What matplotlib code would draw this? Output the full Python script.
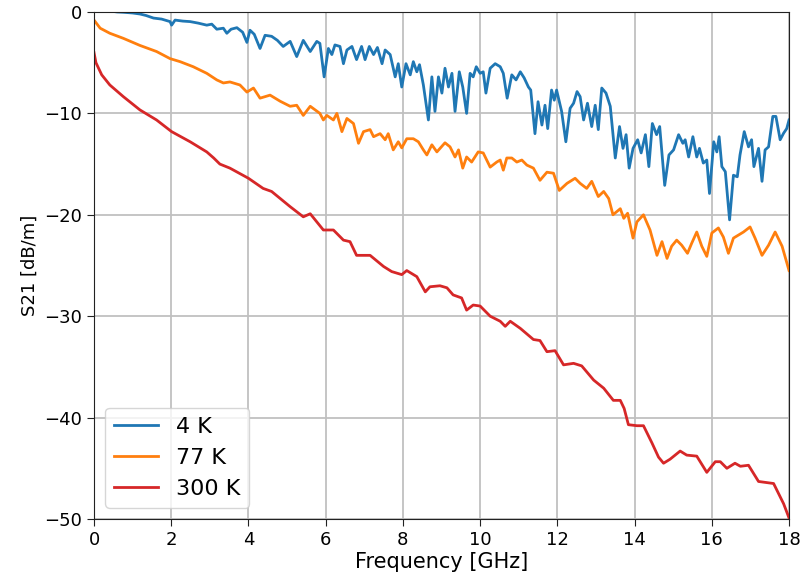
import matplotlib.pyplot as plt
import numpy as np

# S21 attenuation readings, frequency in GHz, value in dB/m
freq_4k = [0.0, 0.3, 0.6, 0.76, 1.0, 1.19, 1.35, 1.54, 1.75, 1.97, 2.01, 2.1, 2.3, 2.49, 2.7,
           2.92, 3.05, 3.18, 3.35, 3.44, 3.55, 3.7, 3.85, 3.96, 4.04, 4.15, 4.3, 4.43, 4.6, 4.75,
           4.9, 5.08, 5.25, 5.42, 5.6, 5.77, 5.85, 5.96, 6.07, 6.16, 6.24, 6.37, 6.46, 6.55, 6.68,
           6.8, 6.93, 7.02, 7.13, 7.24, 7.34, 7.46, 7.54, 7.67, 7.8, 7.88, 7.97, 8.08, 8.19, 8.27,
           8.36, 8.43, 8.53, 8.66, 8.75, 8.83, 8.92, 9.01, 9.09, 9.18, 9.27, 9.35, 9.46, 9.55, 9.65,
           9.74, 9.82, 9.9, 10.0, 10.08, 10.15, 10.26, 10.39, 10.52, 10.6, 10.7, 10.82, 10.93, 11.04,
           11.14, 11.25, 11.31, 11.42, 11.5, 11.6, 11.68, 11.75, 11.85, 11.92, 11.98, 12.11, 12.22,
           12.33, 12.42, 12.51, 12.59, 12.68, 12.78, 12.89, 12.98, 13.06, 13.15, 13.26, 13.37, 13.5,
           13.61, 13.7, 13.78, 13.86, 13.96, 14.08, 14.17, 14.28, 14.37, 14.46, 14.57, 14.65, 14.78,
           14.89, 15.01, 15.14, 15.25, 15.31, 15.4, 15.51, 15.61, 15.68, 15.78, 15.87, 15.94, 16.05,
           16.13, 16.19, 16.26, 16.35, 16.46, 16.56, 16.66, 16.73, 16.84, 16.95, 17.03, 17.09, 17.21,
           17.3, 17.38, 17.47, 17.58, 17.66, 17.77, 17.86, 17.94, 18.0]
s21_4k = [0.3, 0.15, 0.0, -0.03, -0.1, -0.2, -0.35, -0.6, -0.7, -0.95, -1.3, -0.8, -0.9, -0.95, -1.1,
          -1.3, -1.2, -1.7, -1.6, -2.1, -1.7, -1.55, -2.0, -3.0, -1.8, -2.2, -3.6, -2.3, -2.4, -2.8,
          -3.4, -2.9, -4.4, -2.8, -3.9, -2.9, -3.1, -6.4, -3.6, -4.2, -3.25, -3.4, -5.1, -3.75, -3.4,
          -4.7, -3.4, -4.7, -3.4, -4.2, -3.5, -5.1, -3.75, -4.2, -6.4, -5.1, -7.4, -5.1, -6.2, -4.9,
          -5.9, -5.2, -7.2, -10.65, -6.4, -9.8, -6.4, -8.0, -5.55, -7.4, -6.05, -9.8, -5.9, -7.4, -10.0,
          -6.05, -6.4, -5.4, -6.05, -5.9, -8.0, -5.55, -5.1, -5.4, -6.05, -8.5, -6.2, -6.7, -5.9,
          -6.5, -7.4, -7.7, -12.0, -8.85, -11.15, -9.2, -11.5, -7.7, -8.7, -7.7, -9.8, -12.8,
          -9.5, -9.0, -7.85, -8.35, -10.65, -9.0, -11.3, -9.2, -11.6, -7.5, -8.0, -9.3, -14.4,
          -11.3, -13.45, -12.1, -15.4, -13.45, -12.6, -13.9, -12.1, -15.25, -11.0, -12.1, -11.3, -17.1,
          -14.1, -13.6, -12.1, -12.95, -12.6, -14.3, -12.3, -14.3, -13.45, -14.9, -14.6, -17.9, -12.8,
          -13.8, -12.3, -15.25, -15.75, -20.5, -16.1, -16.25, -14.1, -11.8, -13.3, -12.6, -15.25, -13.45,
          -16.7, -13.6, -13.3, -10.3, -10.3, -12.6, -11.95, -11.5, -10.65]

freq_77k = [0.0, 0.03, 0.16, 0.41, 0.76, 1.19, 1.62, 1.97, 2.23, 2.57, 2.92, 3.18, 3.35, 3.52, 3.78,
            3.96, 4.13, 4.3, 4.56, 4.82, 5.08, 5.25, 5.42, 5.6, 5.85, 5.94, 6.03, 6.2, 6.29, 6.42,
            6.55, 6.72, 6.85, 6.98, 7.15, 7.24, 7.41, 7.54, 7.62, 7.75, 7.88, 7.97, 8.1, 8.27, 8.4,
            8.53, 8.62, 8.75, 8.88, 9.09, 9.22, 9.35, 9.44, 9.55, 9.65, 9.78, 9.95, 10.08, 10.26,
            10.43, 10.52, 10.6, 10.69, 10.82, 10.95, 11.08, 11.21, 11.38, 11.55, 11.73, 11.9, 12.05,
            12.25, 12.46, 12.59, 12.76, 12.89, 13.06, 13.2, 13.33, 13.44, 13.63, 13.72, 13.82, 13.96,
            14.06, 14.23, 14.4, 14.58, 14.71, 14.84, 14.96, 15.09, 15.22, 15.37, 15.48, 15.61, 15.74,
            15.87, 16.0, 16.17, 16.3, 16.43, 16.56, 16.69, 16.82, 16.99, 17.12, 17.3, 17.47, 17.64,
            17.82, 18.0]
s21_77k = [-0.8, -0.95, -1.6, -2.1, -2.6, -3.3, -3.9, -4.6, -4.9, -5.4, -6.05, -6.7, -7.0, -6.9, -7.2,
           -7.9, -7.5, -8.5, -8.2, -8.8, -9.3, -9.2, -10.2, -9.3, -10.0, -10.65, -10.2, -10.65, -10.0, -11.8,
           -10.5, -11.0, -12.95, -11.8, -11.6, -12.3, -12.0, -12.6, -12.0, -13.6, -12.8, -13.4, -12.5, -12.5, -12.8,
           -13.6, -14.1, -13.1, -13.8, -12.9, -13.3, -14.3, -13.6, -15.4, -14.3, -14.8, -13.8, -13.9, -15.3,
           -14.8, -14.6, -15.6, -14.4, -14.4, -14.8, -14.6, -15.1, -15.4, -16.6, -15.8, -15.9, -17.6,
           -16.9, -16.4, -16.9, -17.4, -16.7, -18.2, -17.7, -18.4, -20.0, -19.4, -20.35, -19.85, -22.3,
           -20.7, -20.0, -21.5, -24.0, -22.65, -24.3, -23.1, -22.5, -23.0, -23.8, -22.8, -21.7, -23.1,
           -24.1, -21.8, -21.3, -22.2, -23.8, -22.3, -22.0, -21.7, -21.2, -22.3, -24.0, -23.0, -21.7,
           -23.1, -25.5]

freq_300k = [0.0, 0.05, 0.2, 0.41, 0.76, 1.19, 1.62, 2.01, 2.49, 2.92, 3.1, 3.26, 3.52, 4.0, 4.38,
             4.6, 5.08, 5.42, 5.6, 5.94, 6.2, 6.46, 6.63, 6.8, 7.15, 7.5, 7.71, 7.97, 8.1, 8.36,
             8.58, 8.7, 8.96, 9.14, 9.3, 9.52, 9.65, 9.82, 10.0, 10.26, 10.52, 10.65, 10.78, 11.04,
             11.38, 11.55, 11.73, 11.94, 12.16, 12.42, 12.63, 12.94, 13.2, 13.45, 13.63, 13.73, 13.84,
             14.06, 14.23, 14.45, 14.62, 14.75, 14.92, 15.18, 15.35, 15.61, 15.87, 16.09, 16.22, 16.39,
             16.6, 16.74, 16.95, 17.21, 17.6, 17.86, 18.0]
s21_300k = [-4.0, -5.0, -6.2, -7.2, -8.35, -9.66, -10.65, -11.8, -12.8, -13.8, -14.4, -15.0, -15.4, -16.4, -17.4,
            -17.7, -19.2, -20.2, -19.9, -21.5, -21.5, -22.5, -22.65, -24.0, -24.0, -25.1, -25.6, -25.9, -25.5, -26.1,
            -27.6, -27.1, -27.0, -27.2, -27.9, -28.2, -29.4, -28.9, -29.0, -30.0, -30.5, -31.0, -30.5, -31.2,
            -32.3, -32.4, -33.5, -33.4, -34.8, -34.65, -34.9, -36.3, -37.1, -38.3, -38.3, -39.1, -40.7,
            -40.8, -40.8, -42.5, -43.9, -44.5, -44.1, -43.3, -43.7, -43.8, -45.4, -44.35, -44.35, -45.0,
            -44.5, -44.8, -44.7, -46.3, -46.5, -48.5, -49.9]

labels = ["4 K", "77 K", "300 K"]
colors = ["#1f77b4", "#ff7f0e", "#d62728"]

fig = plt.figure(figsize=(8, 5.84), dpi=100)
ax = fig.add_axes([0.1175, 0.1113, 0.8688, 0.8682])

for f, s, lab, c in zip([freq_4k, freq_77k, freq_300k], [s21_4k, s21_77k, s21_300k], labels, colors):
    ax.plot(f, s, color=c, linewidth=2, label=lab)

ax.set_xlim(0, 18)
ax.set_ylim(-50, 0)
ax.set_xticks(np.arange(0, 19, 2))
ax.set_yticks(np.arange(-50, 1, 10))
ax.tick_params(labelsize=13, length=5, color="#222222")
ax.set_xlabel("Frequency [GHz]", fontsize=15, labelpad=2)
ax.set_ylabel("S21 [dB/m]", fontsize=13)
ax.grid(True, color="#c0c0c0", linewidth=1.3)
for sp in ax.spines.values():
    sp.set_color("#222222")
ax.legend(loc="lower left", fontsize=16, framealpha=0.8, edgecolor="#cccccc",
          handlelength=2.0, borderaxespad=0.5)

fig.savefig("out.png", dpi=100)
